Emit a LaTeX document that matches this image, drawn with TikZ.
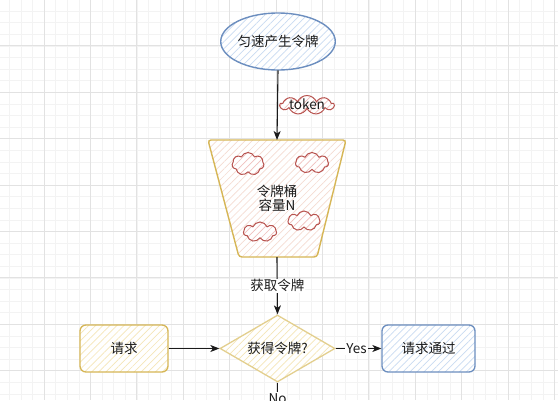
\documentclass[tikz,border=0pt]{standalone}
\usepackage{fontspec}
\setmainfont{Noto Sans CJK SC}
\usetikzlibrary{shapes.geometric,shapes.symbols,arrows.meta,patterns.meta}
\definecolor{blueS}{HTML}{6C8EBF}
\definecolor{blueF}{HTML}{C9DBF2}
\definecolor{goldS}{HTML}{D6B656}
\definecolor{goldL}{HTML}{E3CF8E}
\definecolor{yellowF}{HTML}{F5E6B8}
\definecolor{redS}{HTML}{B85450}
\definecolor{redF}{HTML}{F0BFBD}
\definecolor{bucketF}{HTML}{F5DCD2}
\definecolor{minorG}{HTML}{F3F3F3}
\definecolor{majorG}{HTML}{E2E2E2}
\definecolor{txt}{HTML}{1A1A1A}
\tikzset{
  hatch/.style={preaction={fill=white}, pattern={Lines[angle=45,distance=5pt,line width=0.7pt]}, pattern color=#1},
  every node/.style={font=\fontsize{13.5pt}{16pt}\selectfont, text=txt},
  conn/.style={draw=txt, line width=1.1pt, -{Stealth[length=9pt,width=7pt,inset=2.5pt]}},
  plainline/.style={draw=txt, line width=1.1pt},
  lbl/.style={fill=white, inner sep=1pt},
  puff/.style={cloud, cloud puffs=7, cloud puff arc=135, draw=redS, line width=1pt, hatch=redF, inner sep=0pt},
  roundbox/.style={rectangle, rounded corners=6pt, line width=1.3pt, minimum width=#1, minimum height=47pt, inner sep=0pt}
}
\begin{document}
\begin{tikzpicture}[x=1pt,y=-1pt]
\useasboundingbox (0,0) rectangle (558,400);
\fill[white] (0,0) rectangle (558,400);
% grid
\foreach \x in {9.2,20.8,...,558} \draw[minorG, line width=0.6pt] (\x,0) -- (\x,400);
\foreach \y in {11,22.6,...,400} \draw[minorG, line width=0.6pt] (0,\y) -- (558,\y);
\foreach \x in {44,90.4,...,558} \draw[majorG, line width=0.7pt] (\x,0) -- (\x,400);
\foreach \y in {45.8,92.2,...,400} \draw[majorG, line width=0.7pt] (0,\y) -- (558,\y);

% ellipse
\node[ellipse, draw=blueS, line width=1.4pt, hatch=blueF, minimum width=106pt, minimum height=57pt, inner sep=0pt] (gen) at (278,41.5) {匀速产生令牌};

% bucket (trapezoid)
\draw[goldS, line width=1.4pt, rounded corners=3pt, hatch=bucketF] (208,140) -- (346,140) -- (317,257) -- (239,257) -- cycle;
\node[minimum width=138pt, minimum height=117pt, inner sep=0pt] (bucket) at (277,198.5) {};
\node[puff, minimum width=32pt, minimum height=23pt] (c1) at (248,164) {};
\node[puff, minimum width=33pt, minimum height=21pt] (c2) at (312,163) {};
\node[puff, minimum width=32pt, minimum height=20pt] (c3) at (304,221) {};
\node[puff, minimum width=33pt, minimum height=20pt] (c4) at (260,232) {};
\node[align=center, inner sep=0pt] (btext) at (277,198) {令牌桶\\[-2pt]容量N};

% token cloud
\node[puff, cloud puffs=9, minimum width=54pt, minimum height=19pt] (tok) at (307,105) {};
\node[inner sep=0pt] (toktext) at (307,104.5) {token};

\draw[conn] (gen.south) -- (277,140);

% diamond
\node[diamond, draw=goldL, line width=1.3pt, hatch=yellowF, minimum width=115pt, minimum height=67pt, inner sep=0pt, aspect=1.7] (dec) at (277.5,348.5) {获得令牌?};
\draw[conn] (bucket.south) -- node[lbl] (get) {获取令牌} (dec.north);

% boxes
\node[roundbox=88pt, draw=goldS, hatch=yellowF] (req) at (124,348.5) {请求};
\node[roundbox=93pt, draw=blueS, hatch=blueF] (pass) at (428.5,348.5) {请求通过};
\draw[conn] (req.east) -- (dec.west);
\draw[conn] (dec.east) -- node[lbl, pos=0.5, xshift=-2pt] (yes) {Yes} (pass.west);

% No (cut off at the lower edge, as in the reference)
\node[lbl, anchor=north] (no) at (277.5,392) {No};
\draw[plainline] (dec.south) -- (no.north);
\end{tikzpicture}
\end{document}
